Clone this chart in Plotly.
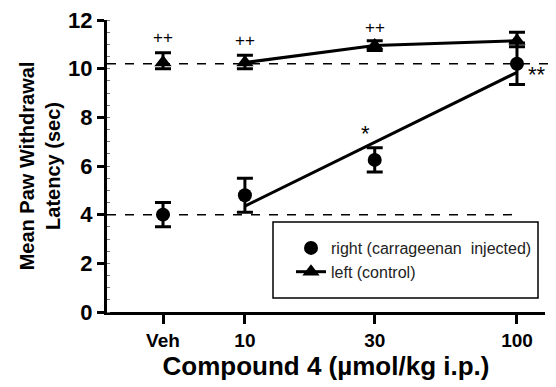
import math
import plotly.graph_objects as go

# ---- data ----
categories = ["Veh", "10", "30", "100"]
dose_pos = [5, 10, 30, 100]          # Veh placed left of 10 on the log axis
right_mean = [4.0, 4.8, 6.25, 10.2]
right_err = [0.5, 0.7, 0.5, 0.85]
left_mean = [10.25, 10.25, 10.95, 11.15]
left_err = [0.4, 0.3, 0.2, 0.35]
left_err_low = [0.25, 0.25, 0.2, 0.25]   # lower bars hidden behind the triangles
fit_x = [10, 100]
fit_y = [4.35, 9.85]
veh_right_level = 4.0
veh_left_level = 10.2
yticks = [0, 2, 4, 6, 8, 10, 12]

FONT = "Liberation Sans, Arial"
fig = go.Figure()

# right (carrageenan injected)
fig.add_trace(go.Scatter(
    x=fit_x, y=fit_y, mode="lines", line=dict(color="black", width=3),
    showlegend=False, hoverinfo="skip"))
fig.add_trace(go.Scatter(
    x=dose_pos, y=right_mean, mode="markers", name="right (carrageenan  injected)",
    legendgroup="r",
    marker=dict(symbol="circle", size=14, color="black"),
    error_y=dict(type="data", array=right_err, color="black", thickness=3, width=8)))

# left (control)
fig.add_trace(go.Scatter(
    x=dose_pos[1:], y=left_mean[1:], mode="lines", line=dict(color="black", width=3),
    showlegend=False, hoverinfo="skip"))
fig.add_trace(go.Scatter(
    x=dose_pos, y=left_mean, mode="markers",
    marker=dict(symbol="triangle-up", size=15, color="black"),
    error_y=dict(type="data", symmetric=False, array=left_err, arrayminus=left_err_low,
                 color="black", thickness=3, width=8),
    showlegend=False))
# legend proxy for left
fig.add_trace(go.Scatter(
    x=[None], y=[None], mode="markers+lines", name="left (control)", legendgroup="l",
    line=dict(color="black", width=3),
    marker=dict(symbol="triangle-up", size=15, color="black")))

# dashed reference lines
fig.add_shape(type="line", xref="paper", yref="y", x0=0, x1=1.03,
              y0=veh_left_level, y1=veh_left_level,
              line=dict(color="black", width=1.5, dash="dash"))
fig.add_shape(type="line", xref="x", yref="y", x0=10 ** 0.4931, x1=10 ** 1.993,
              y0=veh_right_level, y1=veh_right_level,
              line=dict(color="black", width=1.5, dash="dash"))

# legend box
fig.add_shape(type="rect", xref="paper", yref="paper",
              x0=(273 - 107) / 438, x1=(538 - 107) / 438,
              y0=(312 - 298) / 292, y1=(312 - 222) / 292,
              line=dict(color="black", width=1.5), fillcolor="white", layer="below")

# significance marks
marks = [("++", 5, 11.3, 0, 17), ("++", 10, 11.15, 0, 17), ("++", 30, 11.7, 0, 17),
         ("*", 30, 7.35, -0.035, 22), ("**", 100, 9.75, 0.075, 22)]
for txt, xv, yv, dx, fs in marks:
    fig.add_annotation(x=math.log10(xv) + dx, y=yv, text=txt, showarrow=False,
                       font=dict(family=FONT, size=fs, color="#000000"))

fig.update_layout(
    width=556, height=387,
    margin=dict(l=107, r=11, t=20, b=75),
    paper_bgcolor="white", plot_bgcolor="white",
    font=dict(family=FONT, color="black"),
    legend=dict(x=(291 - 107) / 438, y=(312 - 231) / 292, xanchor="left", yanchor="top",
                bgcolor="rgba(0,0,0,0)", borderwidth=0,
                font=dict(family=FONT, size=16, color="#222"),
                tracegroupgap=0),
    xaxis=dict(type="log", range=[0.4931, 2.103], automargin=False,
               tickvals=dose_pos, ticktext=categories,
               showline=True, linecolor="black", linewidth=3,
               ticks="outside", ticklen=9, tickwidth=3, tickcolor="black",
               showgrid=False, zeroline=False,
               tickfont=dict(family=FONT, size=19, color="black", weight="bold"),
               title=dict(text="<b>Compound 4 (µmol/kg i.p.)</b>",
                          font=dict(family=FONT, size=26), standoff=8)),
    yaxis=dict(range=[0, 12], tickvals=yticks, automargin=False,
               showline=True, linecolor="black", linewidth=3,
               ticks="outside", ticklen=7, tickwidth=3, tickcolor="black",
               showgrid=False, zeroline=False,
               minor=dict(dtick=0.5, ticks="inside", ticklen=3, tickwidth=1, tickcolor="#777"),
               tickfont=dict(family=FONT, size=22, color="black", weight="bold"),
               title=dict(text="<b>Mean Paw Withdrawal<br>Latency (sec)</b>",
                          font=dict(family=FONT, size=20), standoff=3)),
)

fig.write_html("out.html", config={"displayModeBar": False},
               post_script="document.body.style.margin='0';document.body.style.padding='0';")
